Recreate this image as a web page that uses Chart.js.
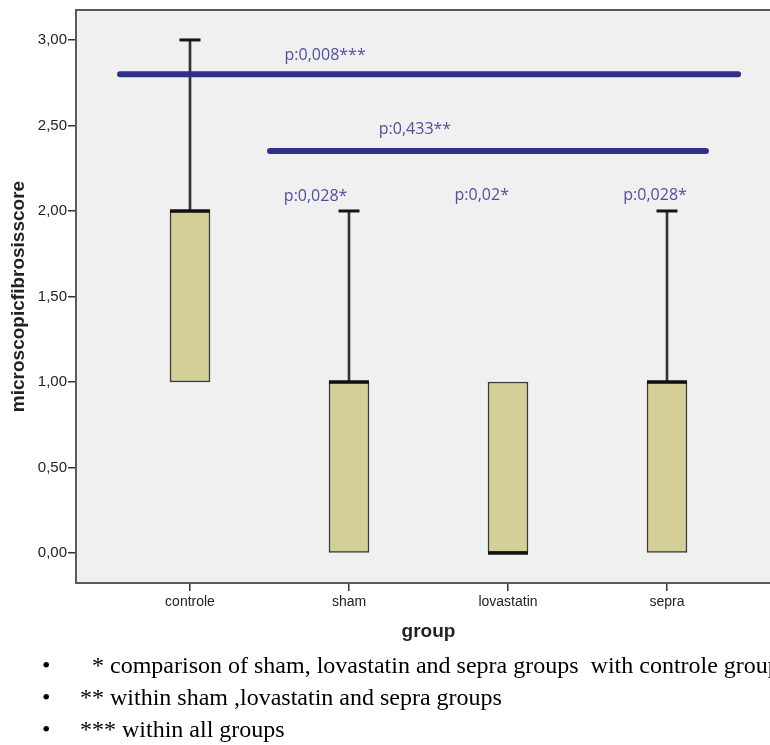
<!DOCTYPE html>
<html>
<head>
<meta charset="utf-8">
<script src="https://cdn.jsdelivr.net/npm/chart.js@4.4.1/dist/chart.umd.min.js"></script>
<style>
  html, body { margin: 0; padding: 0; background: #fff; overflow: hidden; }
  #wrap { position: absolute; left: 0; top: 0; width: 781px; height: 650px; }
  .notes { position: absolute; left: 0; top: 649px; width: 770px; font-family: "Liberation Serif", "Times New Roman", serif; font-size: 24px; line-height: 32px; color: #000; }
  .notes div { position: relative; height: 32px; white-space: pre; }
  .notes .dot { position: absolute; left: 42px; }
  .notes .txt { position: absolute; left: 80px; }
</style>
</head>
<body>
<div id="wrap"><canvas id="boxChart"></canvas></div>
<div class="notes">
  <div><span class="dot">•</span><span class="txt">  * comparison of sham, lovastatin and sepra groups  with controle group</span></div>
  <div><span class="dot">•</span><span class="txt">** within sham ,lovastatin and sepra groups</span></div>
  <div><span class="dot">•</span><span class="txt">*** within all groups</span></div>
</div>
<script>
// box plot data
const groups = ["controle", "sham", "lovastatin", "sepra"];
const boxLow = [1, 0, 0, 0];
const boxHigh = [2, 1, 1, 1];
const medians = [2, 1, 0, 1];
const whiskerMax = [3, 2, 1, 2];
const yTicks = [0, 0.5, 1, 1.5, 2, 2.5, 3];

// significance bars, x in group index units
const allGroupsBar = [[-0.44, 2.8], [3.447, 2.8]];
const treatedBar = [[0.503, 2.35], [3.245, 2.35]];
const pLabels = ["p:0,008***", "p:0,433**", "p:0,028*", "p:0,02*", "p:0,028*"];
const pLabelX = [0.85, 1.415, 0.79, 1.835, 2.925];
const pLabelY = [2.91, 2.476, 2.085, 2.09, 2.09];

const hasWhisker = groups.map((g, i) => whiskerMax[i] > boxHigh[i]);

// grey plot area + frame
const plotFrame = {
  id: "plotFrame",
  beforeDraw(chart) {
    const { ctx, chartArea: a } = chart;
    ctx.save();
    ctx.fillStyle = "#f0f0f0";
    ctx.fillRect(a.left, a.top, a.right - a.left, a.bottom - a.top);
    ctx.restore();
  },
  beforeDatasetsDraw(chart) {
    const { ctx, chartArea: a } = chart;
    ctx.save();
    ctx.strokeStyle = "#5a5a5a";
    ctx.lineWidth = 2;
    ctx.strokeRect(a.left, a.top, a.right - a.left, a.bottom - a.top);
    ctx.restore();
  }
};

// p value texts drawn at the points of the label dataset
const pText = {
  id: "pText",
  afterDatasetsDraw(chart) {
    const meta = chart.getDatasetMeta(5);
    const ctx = chart.ctx;
    ctx.save();
    ctx.font = '16px "Open Sans"';
    ctx.fillStyle = "#4e509e";
    ctx.textAlign = "center";
    ctx.textBaseline = "middle";
    meta.data.forEach((pt, i) => ctx.fillText(pLabels[i], pt.x, pt.y));
    ctx.restore();
  }
};

const ctx = document.getElementById("boxChart");

const data = {
  datasets: [
    {
      type: "bar",
      data: groups.map((g, i) => ({ x: i, y: [boxLow[i], boxHigh[i]] })),
      backgroundColor: "#d3cf96",
      borderColor: "#3a3a3a",
      borderWidth: 1.5,
      borderSkipped: false,
      barThickness: 40,
      grouped: false,
      order: 3,
    },
    {
      type: "bar",
      data: groups.map((g, i) => ({ x: i, y: [boxHigh[i], whiskerMax[i]] })).filter((d, i) => hasWhisker[i]),
      backgroundColor: "#333",
      borderWidth: 0,
      barThickness: 2,
      grouped: false,
      order: 4,
    },
    {
      type: "scatter",
      data: groups.map((g, i) => ({ x: i, y: whiskerMax[i] })).filter((d, i) => hasWhisker[i]),
      pointStyle: "line",
      pointRadius: 10.5,
      pointBorderWidth: 3,
      pointBorderColor: "#151515",
      order: 2,
    },
    {
      type: "scatter",
      data: groups.map((g, i) => ({ x: i, y: medians[i] })),
      pointStyle: "line",
      pointRadius: 20,
      pointBorderWidth: 3.5,
      pointBorderColor: "#111",
      order: 1,
    },
    {
      type: "line",
      data: [
        ...allGroupsBar.map(p => ({ x: p[0], y: p[1] })),
        { x: null, y: null },
        ...treatedBar.map(p => ({ x: p[0], y: p[1] })),
      ],
      borderColor: "#2f3087",
      borderWidth: 6,
      borderCapStyle: "round",
      pointRadius: 0,
      spanGaps: false,
      order: 0,
    },
    {
      type: "scatter",
      data: pLabelX.map((x, i) => ({ x: x, y: pLabelY[i] })),
      pointRadius: 0,
      order: 0,
    },
  ],
};

const config = {
  type: "bar",
  data: data,
  options: {
    responsive: true,
    maintainAspectRatio: false,
    animation: false,
    events: [],
    layout: { autoPadding: false, padding: { top: 8, left: 0, right: 0, bottom: 0 } },
    plugins: { legend: { display: false }, tooltip: { enabled: false } },
    scales: {
      x: {
        type: "linear",
        min: -0.717,
        max: 3.717,
        offset: false,
        afterBuildTicks: (s) => { s.ticks = groups.map((g, i) => ({ value: i })); },
        afterFit: (s) => { s.height = 67; },
        ticks: {
          callback: (v) => groups[v],
          font: { family: "Liberation Sans", size: 14 },
          color: "#222",
          padding: 3,
          maxRotation: 0,
          autoSkip: false,
        },
        grid: { drawOnChartArea: false, offset: false, tickLength: 8, color: "#333", lineWidth: 1.5 },
        border: { display: false },
        title: {
          display: true,
          text: "group",
          font: { family: "Liberation Sans", size: 19, weight: "bold" },
          color: "#222",
          padding: { top: 0, bottom: 7 },
        },
      },
      y: {
        min: -0.175,
        max: 3.175,
        afterBuildTicks: (s) => { s.ticks = yTicks.map(v => ({ value: v })); },
        afterFit: (s) => { s.width = 76; },
        ticks: {
          callback: (v) => v.toFixed(2).replace(".", ","),
          font: { family: "Liberation Sans", size: 15 },
          color: "#222",
          padding: 1,
        },
        grid: { drawOnChartArea: false, tickLength: 8, color: "#333", lineWidth: 1.5 },
        border: { display: false },
        title: {
          display: true,
          text: "microscopicfibrosisscore",
          font: { family: "Liberation Sans", size: 19, weight: "bold" },
          color: "#222",
          padding: { top: 7, bottom: 0 },
        },
      },
    },
  },
  plugins: [plotFrame, pText],
};

new Chart(ctx, config);
</script>
</body>
</html>
